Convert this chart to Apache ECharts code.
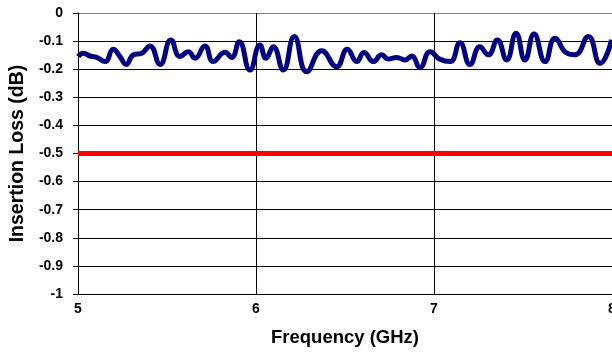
<!DOCTYPE html>
<html>
<head>
<meta charset="utf-8">
<script src="https://cdn.jsdelivr.net/npm/echarts@6/dist/echarts.min.js"></script>
<style>
  html, body { margin: 0; padding: 0; background: #fff; }
  #chart { width: 612px; height: 356px; }
</style>
</head>
<body>
<div id="chart"></div>
<script>
const freqGHz = [
    5.002, 5.030, 5.067, 5.105, 5.152, 5.198, 5.236, 5.270, 5.311, 5.358,
    5.404, 5.461, 5.522, 5.573, 5.620, 5.657, 5.713, 5.760, 5.826, 5.863,
    5.906, 5.966, 6.022, 6.056, 6.097, 6.153, 6.215, 6.285, 6.369, 6.453,
    6.513, 6.566, 6.607, 6.659, 6.706, 6.743, 6.790, 6.837, 6.875, 6.921,
    6.978, 7.034, 7.090, 7.146, 7.202, 7.258, 7.305, 7.356, 7.408, 7.461,
    7.511, 7.562, 7.624, 7.680, 7.746, 7.792, 7.867, 7.933, 7.998
];
const lossDb = [
    -0.155, -0.143, -0.153, -0.158, -0.173, -0.129, -0.155, -0.183, -0.149, -0.143,
    -0.117, -0.183, -0.096, -0.155, -0.138, -0.161, -0.117, -0.173, -0.140, -0.158,
    -0.102, -0.203, -0.114, -0.161, -0.120, -0.203, -0.084, -0.209, -0.134, -0.191,
    -0.129, -0.173, -0.141, -0.173, -0.149, -0.164, -0.158, -0.167, -0.153, -0.195,
    -0.138, -0.165, -0.173, -0.106, -0.183, -0.120, -0.149, -0.096, -0.167, -0.072,
    -0.167, -0.075, -0.173, -0.090, -0.143, -0.149, -0.084, -0.179, -0.096
];
// spec limit line
const limitFreq = [5, 8];
const limitDb = [-0.5, -0.5];

const yTicks = ['0', '-0.1', '-0.2', '-0.3', '-0.4', '-0.5', '-0.6', '-0.7', '-0.8', '-0.9', '-1'];

const font = '"Liberation Sans", Arial, sans-serif';

const chart = echarts.init(document.getElementById('chart'));

chart.setOption({
    animation: false,
    backgroundColor: '#fff',
    grid: { left: 78, right: 0, top: 13, bottom: 62, outerBoundsMode: 'none', containLabel: false },
    xAxis: {
        type: 'value',
        min: 5,
        max: 8,
        interval: 1,
        name: 'Frequency (GHz)',
        nameLocation: 'middle',
        nameGap: 34,
        nameTextStyle: { fontFamily: font, fontWeight: 'bold', fontSize: 18.5, color: '#000' },
        axisLine: { lineStyle: { color: '#808080', width: 1 } },
        axisTick: { show: true, length: 4, lineStyle: { color: '#000' } },
        axisLabel: { fontFamily: font, fontWeight: 'bold', fontSize: 14, color: '#000', margin: 8 },
        splitLine: { show: true, lineStyle: { color: '#000', width: 1 } }
    },
    yAxis: {
        type: 'value',
        min: -1,
        max: 0,
        interval: 0.1,
        name: 'Insertion Loss (dB)',
        nameLocation: 'middle',
        nameGap: 50,
        nameTextStyle: { fontFamily: font, fontWeight: 'bold', fontSize: 19.5, color: '#000' },
        axisLine: { show: true, lineStyle: { color: '#000', width: 1 } },
        axisTick: { show: true, length: 5, lineStyle: { color: '#000' } },
        axisLabel: {
            fontFamily: font, fontWeight: 'bold', fontSize: 14, color: '#000', margin: 15,
            formatter: function (value) {
                return yTicks[Math.round(-value * 10)];
            }
        },
        splitLine: { show: true, lineStyle: { color: '#000', width: 1 } }
    },
    series: [
        {
            type: 'line',
            data: limitFreq.map((f, i) => [f, limitDb[i]]),
            symbol: 'none',
            lineStyle: { color: '#ff0000', width: 5 },
            z: 3
        },
        {
            type: 'line',
            data: freqGHz.map((f, i) => [f, lossDb[i]]),
            symbol: 'none',
            smooth: 0.5,
            lineStyle: { color: '#000080', width: 5 },
            z: 4
        }
    ]
});
</script>
</body>
</html>
